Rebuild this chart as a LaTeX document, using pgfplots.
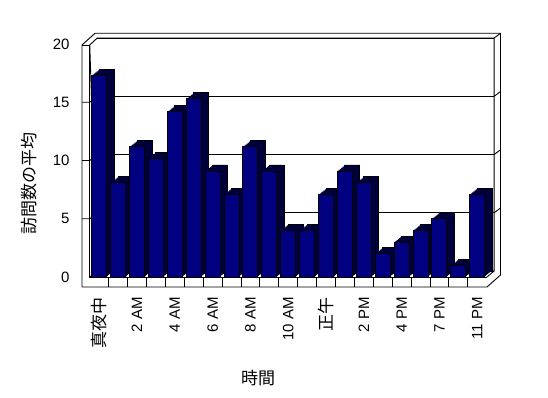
\documentclass[border=0pt]{standalone}
\usepackage{fontspec}
\setmainfont{Liberation Sans}
\newfontfamily\jp{Noto Sans CJK JP}
\usepackage{pgfplots}
\usepackage{pgfplotstable}
\pgfplotsset{compat=1.18}
\definecolor{barfront}{RGB}{0,0,128}
\definecolor{barside}{RGB}{0,0,58}

\pgfplotstableread{
x y
0 17.3
1 8.1
2 11.2
3 10.2
4 14.2
5 15.3
6 9.1
7 7.1
8 11.2
9 9.1
10 4.0
11 4.0
12 7.1
13 9.1
14 8.1
15 2.0
16 3.0
17 4.0
18 5.0
19 1.0
20 7.1
}\visits

\pgfplotsset{
  side/.style={ybar, bar width=15bp, fill=barside, draw=none},
}

\begin{document}
\begin{tikzpicture}
% walls and floor (image pixel coordinates)
\begin{scope}[x=1bp,y=-1bp,yshift=398bp,line width=0.9bp]
  \draw (82,45) -- (82,287) -- (487,287) -- (500.5,275) -- (500.5,33.3) -- (95,33.3) -- cycle;
  \draw (82,45) -- (89.75,45);
  \draw (89.75,45) -- (89.75,277) -- (487,277);
  \draw (89.75,45) -- (97.25,38) -- (494.15,38) -- (494.15,271) -- (97.25,271) -- cycle;
  \draw (494.15,38) -- (500.5,33.3);
  \draw (487,277) -- (494.15,271);
  \foreach \k in {1,...,20} {\draw ({89.75+18.9*\k},277) -- ({89.75+18.9*\k},287);}
  \foreach \v in {5,10,15} {
    \draw (82,{277-11.65*\v}) -- (89.75,{277-11.65*\v}) -- (97.25,{271-11.65*\v});
    \draw (494.15,{271-11.65*\v}) -- (500.5,{266.3-11.65*\v});
  }
  \draw (89.75,277) -- (97.25,271);
\end{scope}

\begin{axis}[
  at={(89.75bp,121bp)}, anchor=south west,
  width=396.9bp, height=233bp, scale only axis,
  xmin=-0.5, xmax=20.5, ymin=0, ymax=20,
  clip=false,
  axis line style={draw=none},
  major tick length=0pt,
  tick style={draw=none},
  ytick={0,5,10,15,20},
  xtick={0,2,...,20},
  xticklabels={{\jp\fontsize{17bp}{20bp}\selectfont 真夜中},2 AM,4 AM,6 AM,8 AM,10 AM,{\jp\fontsize{17bp}{20bp}\selectfont 正午},2 PM,4 PM,7 PM,11 PM},
  ymajorgrids,
  major grid style={black, line width=0.9bp, xshift=7.5bp, yshift=6bp},
  tick label style={font=\fontsize{15bp}{18bp}\selectfont, inner sep=0pt},
  /pgf/number format/assume math mode=true,
  yticklabel shift=20bp,
  xticklabel shift=20bp,
  x tick label style={rotate=90, anchor=east},
]
\addplot[side, bar shift=7.5bp, yshift=6bp, draw=black, line width=0.9bp] table {\visits};
\addplot[side, bar shift=6.25bp, yshift=5bp] table {\visits};
\addplot[side, bar shift=5bp, yshift=4bp] table {\visits};
\addplot[side, bar shift=3.75bp, yshift=3bp] table {\visits};
\addplot[side, bar shift=2.5bp, yshift=2bp] table {\visits};
\addplot[side, bar shift=1.25bp, yshift=1bp] table {\visits};
\addplot[ybar, bar width=15bp, bar shift=0pt, fill=barfront, draw=black, line width=0.9bp] table {\visits};
\end{axis}

\node[rotate=90] at (29bp,214.5bp) {\jp\fontsize{17bp}{20bp}\selectfont 訪問数の平均};
\node at (258bp,20bp) {\jp\fontsize{17bp}{20bp}\selectfont 時間};

\pgfresetboundingbox
\useasboundingbox (0,0) rectangle (548bp,398bp);
\end{tikzpicture}
\end{document}
